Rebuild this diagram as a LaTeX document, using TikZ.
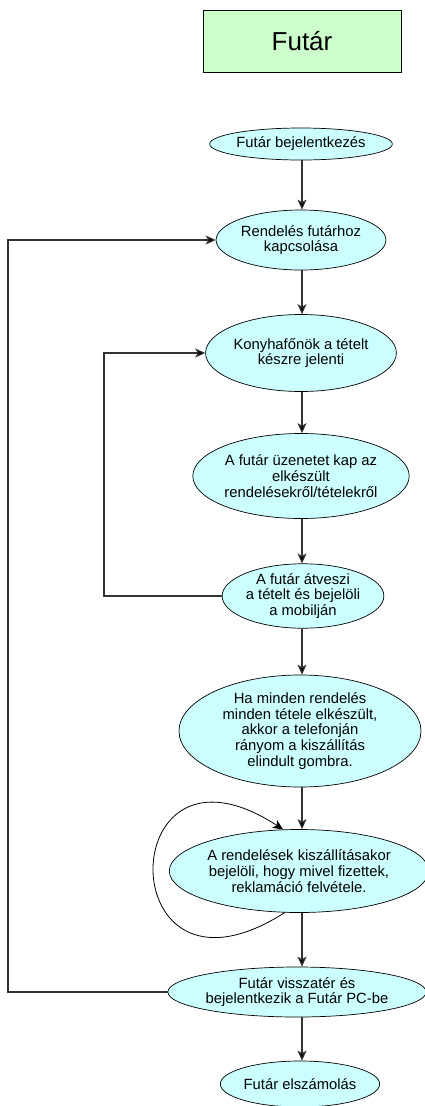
\documentclass[tikz,border=0pt]{standalone}
\usepackage{fontspec}
\setmainfont{Liberation Sans}
\usetikzlibrary{shapes.geometric,arrows.meta}
\definecolor{boxgreen}{HTML}{CCFFCC}
\definecolor{ellcyan}{HTML}{CCFFFF}
\definecolor{linegray}{HTML}{333333}
\begin{document}
\begin{tikzpicture}[x=1pt,y=-1pt,
  stepell/.style={ellipse,draw=black,line width=0.7pt,fill=ellcyan,inner sep=0pt,align=center,
    font=\fontsize{14.8}{15.8}\selectfont},
  tip/.style={-{Stealth[length=10pt,width=9pt,inset=2.5pt,fill=black]}},
  arr/.style={draw=linegray,line width=1.1pt,tip},
  titlebox/.style={rectangle,draw=black,line width=0.8pt,fill=boxgreen,minimum width=198pt,minimum height=62pt,
    font=\fontsize{26}{29}\selectfont}
]
\useasboundingbox (0,0) rectangle (425,1106);
\node[titlebox] (title) at (302,41) {Futár};

\node[stepell,minimum width=140pt,minimum height=32pt] (e1) at (301,144) {Futár bejelentkezés};
\node[stepell,minimum width=153pt,minimum height=60pt] (e2) at (301,240) {Rendelés futárhoz\\kapcsolása};
\node[stepell,minimum width=175pt,minimum height=77pt] (e3) at (301,353) {Konyhafőnök a tételt\\készre jelenti};
\node[stepell,minimum width=210pt,minimum height=85pt] (e4) at (301,476) {A futár üzenetet kap az\\elkészült\\rendelésekről/tételekről};
\node[stepell,minimum width=142pt,minimum height=64pt] (e5) at (303,596) {A futár átveszi\\a tételt és bejelöli\\a mobilján};
\node[stepell,minimum width=242pt,minimum height=112pt] (e6) at (300,731) {Ha minden rendelés\\minden tétele elkészült,\\akkor a telefonján\\rányom a kiszállítás\\elindult gombra.};
\node[stepell,minimum width=217pt,minimum height=83pt] (e7) at (299,871) {A rendelések kiszállításakor\\bejelöli, hogy mivel fizettek,\\reklamáció felvétele.};
\node[stepell,minimum width=215pt,minimum height=50pt] (e8) at (297,992) {Futár visszatér és\\bejelentkezik a Futár PC-be};
\node[stepell,minimum width=130pt,minimum height=46pt] (e9) at (300,1084) {Futár elszámolás};

\coordinate (L1) at (8,0);
\coordinate (L2) at (104,0);

\draw[arr] (e1.south -| 302,0) -- (e2.north -| 302,0);
\draw[arr] (e2.south -| 302,0) -- (e3.north -| 302,0);
\draw[arr] (e3.south -| 302,0) -- (e4.north -| 302,0);
\draw[arr] (e4.south -| 302,0) -- (e5.north -| 302,0);
\draw[arr] (e5.south -| 302,0) -- (e6.north -| 302,0);
\draw[arr] (e6.south -| 302,0) -- (e7.north -| 302,0);
\draw[arr] (e7.south -| 302,0) -- (e8.north -| 302,0);
\draw[arr] (e8.south -| 302,0) -- (e9.north -| 302,0);

\draw[arr] (e5.west) -- (e5.west -| L2) |- (e3.west);
\draw[arr] (e8.west) -- (e8.west -| L1) |- (e2.west);

\draw[draw=black,line width=0.8pt,tip]
  (e7.251) .. controls +(-175,112) and +(-172,-112) .. (e7.111);
\end{tikzpicture}
\end{document}
